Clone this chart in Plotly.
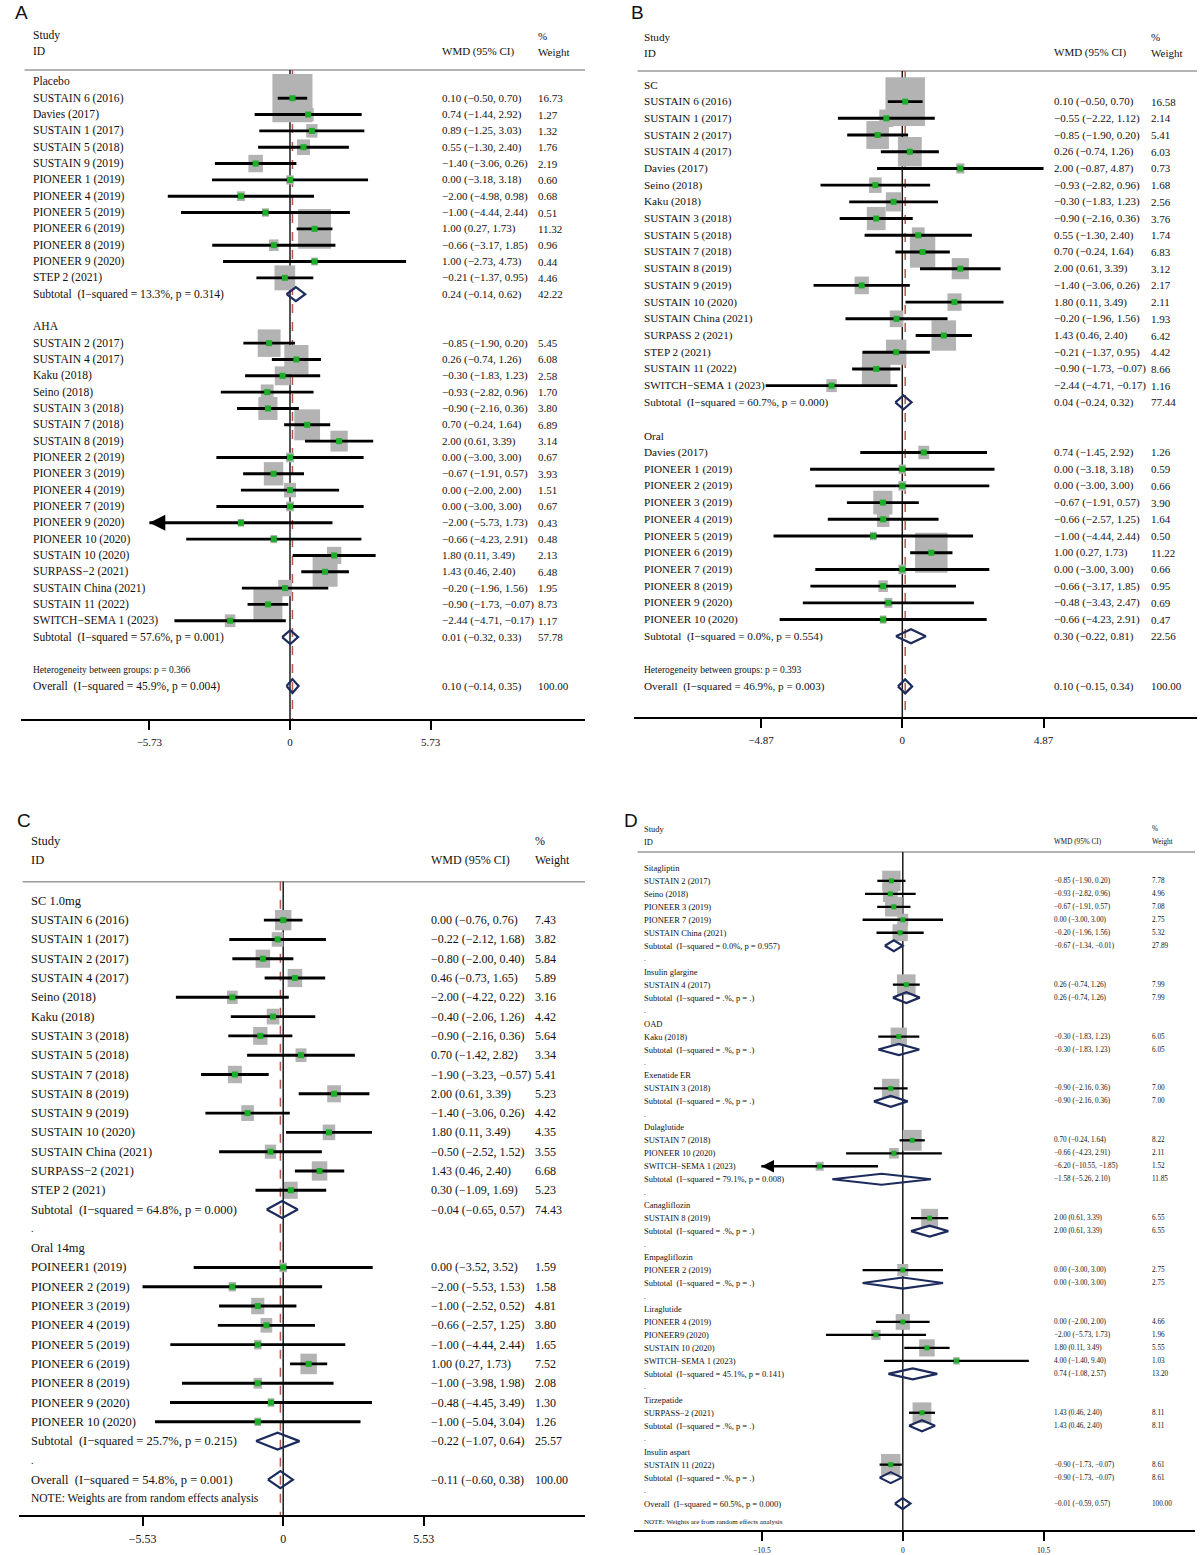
import math
import plotly.graph_objects as go

MINUS = "\u2212"
NB = "\u00a0"

# ======================= Panel A =======================
A_groups = ["Placebo", "AHA"]
A_placebo_ids = ["SUSTAIN 6 (2016)", "Davies (2017)", "SUSTAIN 1 (2017)", "SUSTAIN 5 (2018)",
                 "SUSTAIN 9 (2019)", "PIONEER 1 (2019)", "PIONEER 4 (2019)", "PIONEER 5 (2019)",
                 "PIONEER 6 (2019)", "PIONEER 8 (2019)", "PIONEER 9 (2020)", "STEP 2 (2021)"]
A_placebo_est = [0.10, 0.74, 0.89, 0.55, -1.40, 0.00, -2.00, -1.00, 1.00, -0.66, 1.00, -0.21]
A_placebo_lo = [-0.50, -1.44, -1.25, -1.30, -3.06, -3.18, -4.98, -4.44, 0.27, -3.17, -2.73, -1.37]
A_placebo_hi = [0.70, 2.92, 3.03, 2.40, 0.26, 3.18, 0.98, 2.44, 1.73, 1.85, 4.73, 0.95]
A_placebo_wt = [16.73, 1.27, 1.32, 1.76, 2.19, 0.60, 0.68, 0.51, 11.32, 0.96, 0.44, 4.46]

A_aha_ids = ["SUSTAIN 2 (2017)", "SUSTAIN 4 (2017)", "Kaku (2018)", "Seino (2018)", "SUSTAIN 3 (2018)",
             "SUSTAIN 7 (2018)", "SUSTAIN 8 (2019)", "PIONEER 2 (2019)", "PIONEER 3 (2019)",
             "PIONEER 4 (2019)", "PIONEER 7 (2019)", "PIONEER 9 (2020)", "PIONEER 10 (2020)",
             "SUSTAIN 10 (2020)", "SURPASS−2 (2021)", "SUSTAIN China (2021)", "SUSTAIN 11 (2022)",
             "SWITCH−SEMA 1 (2023)"]
A_aha_est = [-0.85, 0.26, -0.30, -0.93, -0.90, 0.70, 2.00, 0.00, -0.67, 0.00, 0.00, -2.00, -0.66,
             1.80, 1.43, -0.20, -0.90, -2.44]
A_aha_lo = [-1.90, -0.74, -1.83, -2.82, -2.16, -0.24, 0.61, -3.00, -1.91, -2.00, -3.00, -5.73, -4.23,
            0.11, 0.46, -1.96, -1.73, -4.71]
A_aha_hi = [0.20, 1.26, 1.23, 0.96, 0.36, 1.64, 3.39, 3.00, 0.57, 2.00, 3.00, 1.73, 2.91,
            3.49, 2.40, 1.56, -0.07, -0.17]
A_aha_wt = [5.45, 6.08, 2.58, 1.70, 3.80, 6.89, 3.14, 0.67, 3.93, 1.51, 0.67, 0.43, 0.48,
            2.13, 6.48, 1.95, 8.73, 1.17]

A_sub_labels = ["Subtotal  (I−squared = 13.3%, p = 0.314)", "Subtotal  (I−squared = 57.6%, p = 0.001)"]
A_sub_est = [0.24, 0.01]
A_sub_lo = [-0.14, -0.32]
A_sub_hi = [0.62, 0.33]
A_sub_wt = [42.22, 57.78]
A_het = "Heterogeneity between groups: p = 0.366"
A_overall_label = "Overall  (I−squared = 45.9%, p = 0.004)"
A_overall = [0.10, -0.14, 0.35, 100.00]
A_ticks = [-5.73, 0, 5.73]
A_arrows = [(1, 11)]

# ======================= Panel B =======================
B_groups = ["SC", "Oral"]
B_sc_ids = ["SUSTAIN 6 (2016)", "SUSTAIN 1 (2017)", "SUSTAIN 2 (2017)", "SUSTAIN 4 (2017)", "Davies (2017)",
            "Seino (2018)", "Kaku (2018)", "SUSTAIN 3 (2018)", "SUSTAIN 5 (2018)", "SUSTAIN 7 (2018)",
            "SUSTAIN 8 (2019)", "SUSTAIN 9 (2019)", "SUSTAIN 10 (2020)", "SUSTAIN China (2021)",
            "SURPASS 2 (2021)", "STEP 2 (2021)", "SUSTAIN 11 (2022)", "SWITCH−SEMA 1 (2023)"]
B_sc_est = [0.10, -0.55, -0.85, 0.26, 2.00, -0.93, -0.30, -0.90, 0.55, 0.70, 2.00, -1.40, 1.80,
            -0.20, 1.43, -0.21, -0.90, -2.44]
B_sc_lo = [-0.50, -2.22, -1.90, -0.74, -0.87, -2.82, -1.83, -2.16, -1.30, -0.24, 0.61, -3.06, 0.11,
           -1.96, 0.46, -1.37, -1.73, -4.71]
B_sc_hi = [0.70, 1.12, 0.20, 1.26, 4.87, 0.96, 1.23, 0.36, 2.40, 1.64, 3.39, 0.26, 3.49,
           1.56, 2.40, 0.95, -0.07, -0.17]
B_sc_wt = [16.58, 2.14, 5.41, 6.03, 0.73, 1.68, 2.56, 3.76, 1.74, 6.83, 3.12, 2.17, 2.11,
           1.93, 6.42, 4.42, 8.66, 1.16]

B_oral_ids = ["Davies (2017)", "PIONEER 1 (2019)", "PIONEER 2 (2019)", "PIONEER 3 (2019)",
              "PIONEER 4 (2019)", "PIONEER 5 (2019)", "PIONEER 6 (2019)", "PIONEER 7 (2019)",
              "PIONEER 8 (2019)", "PIONEER 9 (2020)", "PIONEER 10 (2020)"]
B_oral_est = [0.74, 0.00, 0.00, -0.67, -0.66, -1.00, 1.00, 0.00, -0.66, -0.48, -0.66]
B_oral_lo = [-1.45, -3.18, -3.00, -1.91, -2.57, -4.44, 0.27, -3.00, -3.17, -3.43, -4.23]
B_oral_hi = [2.92, 3.18, 3.00, 0.57, 1.25, 2.44, 1.73, 3.00, 1.85, 2.47, 2.91]
B_oral_wt = [1.26, 0.59, 0.66, 3.90, 1.64, 0.50, 11.22, 0.66, 0.95, 0.69, 0.47]

B_sub_labels = ["Subtotal  (I−squared = 60.7%, p = 0.000)", "Subtotal  (I−squared = 0.0%, p = 0.554)"]
B_sub_est = [0.04, 0.30]
B_sub_lo = [-0.24, -0.22]
B_sub_hi = [0.32, 0.81]
B_sub_wt = [77.44, 22.56]
B_het = "Heterogeneity between groups: p = 0.393"
B_overall_label = "Overall  (I−squared = 46.9%, p = 0.003)"
B_overall = [0.10, -0.15, 0.34, 100.00]
B_ticks = [-4.87, 0, 4.87]
B_arrows = []

# ======================= Panel C =======================
C_groups = ["SC 1.0mg", "Oral 14mg"]
C_sc_ids = ["SUSTAIN 6 (2016)", "SUSTAIN 1 (2017)", "SUSTAIN 2 (2017)", "SUSTAIN 4 (2017)", "Seino (2018)",
            "Kaku (2018)", "SUSTAIN 3 (2018)", "SUSTAIN 5 (2018)", "SUSTAIN 7 (2018)", "SUSTAIN 8 (2019)",
            "SUSTAIN 9 (2019)", "SUSTAIN 10 (2020)", "SUSTAIN China (2021)", "SURPASS−2 (2021)",
            "STEP 2 (2021)"]
C_sc_est = [0.00, -0.22, -0.80, 0.46, -2.00, -0.40, -0.90, 0.70, -1.90, 2.00, -1.40, 1.80, -0.50, 1.43, 0.30]
C_sc_lo = [-0.76, -2.12, -2.00, -0.73, -4.22, -2.06, -2.16, -1.42, -3.23, 0.61, -3.06, 0.11, -2.52, 0.46, -1.09]
C_sc_hi = [0.76, 1.68, 0.40, 1.65, 0.22, 1.26, 0.36, 2.82, -0.57, 3.39, 0.26, 3.49, 1.52, 2.40, 1.69]
C_sc_wt = [7.43, 3.82, 5.84, 5.89, 3.16, 4.42, 5.64, 3.34, 5.41, 5.23, 4.42, 4.35, 3.55, 6.68, 5.23]

C_oral_ids = ["POINEER1 (2019)", "PIONEER 2 (2019)", "PIONEER 3 (2019)", "PIONEER 4 (2019)",
              "PIONEER 5 (2019)", "PIONEER 6 (2019)", "PIONEER 8 (2019)", "PIONEER 9 (2020)",
              "PIONEER 10 (2020)"]
C_oral_est = [0.00, -2.00, -1.00, -0.66, -1.00, 1.00, -1.00, -0.48, -1.00]
C_oral_lo = [-3.52, -5.53, -2.52, -2.57, -4.44, 0.27, -3.98, -4.45, -5.04]
C_oral_hi = [3.52, 1.53, 0.52, 1.25, 2.44, 1.73, 1.98, 3.49, 3.04]
C_oral_wt = [1.59, 1.58, 4.81, 3.80, 1.65, 7.52, 2.08, 1.30, 1.26]

C_sub_labels = ["Subtotal  (I−squared = 64.8%, p = 0.000)", "Subtotal  (I−squared = 25.7%, p = 0.215)"]
C_sub_est = [-0.04, -0.22]
C_sub_lo = [-0.65, -1.07]
C_sub_hi = [0.57, 0.64]
C_sub_wt = [74.43, 25.57]
C_overall_label = "Overall  (I−squared = 54.8%, p = 0.001)"
C_overall = [-0.11, -0.60, 0.38, 100.00]
C_note = "NOTE: Weights are from random effects analysis"
C_ticks = [-5.53, 0, 5.53]
C_arrows = []

# ======================= Panel D =======================
D_groups = ["Sitagliptin", "Insulin glargine", "OAD", "Exenatide ER", "Dulaglutide", "Canagliflozin",
            "Empagliflozin", "Liraglutide", "Tirzepatide", "Insulin aspart"]
D_sita_ids = ["SUSTAIN 2 (2017)", "Seino (2018)", "PIONEER 3 (2019)", "PIONEER 7 (2019)", "SUSTAIN China (2021)"]
D_sita_est = [-0.85, -0.93, -0.67, 0.00, -0.20]
D_sita_lo = [-1.90, -2.82, -1.91, -3.00, -1.96]
D_sita_hi = [0.20, 0.96, 0.57, 3.00, 1.56]
D_sita_wt = [7.78, 4.96, 7.08, 2.75, 5.32]
D_glar_ids = ["SUSTAIN 4 (2017)"]
D_glar_est = [0.26]
D_glar_lo = [-0.74]
D_glar_hi = [1.26]
D_glar_wt = [7.99]
D_oad_ids = ["Kaku (2018)"]
D_oad_est = [-0.30]
D_oad_lo = [-1.83]
D_oad_hi = [1.23]
D_oad_wt = [6.05]
D_exe_ids = ["SUSTAIN 3 (2018)"]
D_exe_est = [-0.90]
D_exe_lo = [-2.16]
D_exe_hi = [0.36]
D_exe_wt = [7.00]
D_dula_ids = ["SUSTAIN 7 (2018)", "PIONEER 10 (2020)", "SWITCH−SEMA 1 (2023)"]
D_dula_est = [0.70, -0.66, -6.20]
D_dula_lo = [-0.24, -4.23, -10.55]
D_dula_hi = [1.64, 2.91, -1.85]
D_dula_wt = [8.22, 2.11, 1.52]
D_cana_ids = ["SUSTAIN 8 (2019)"]
D_cana_est = [2.00]
D_cana_lo = [0.61]
D_cana_hi = [3.39]
D_cana_wt = [6.55]
D_empa_ids = ["PIONEER 2 (2019)"]
D_empa_est = [0.00]
D_empa_lo = [-3.00]
D_empa_hi = [3.00]
D_empa_wt = [2.75]
D_lira_ids = ["PIONEER 4 (2019)", "PIONEER9 (2020)", "SUSTAIN 10 (2020)", "SWITCH−SEMA 1 (2023)"]
D_lira_est = [0.00, -2.00, 1.80, 4.00]
D_lira_lo = [-2.00, -5.73, 0.11, -1.40]
D_lira_hi = [2.00, 1.73, 3.49, 9.40]
D_lira_wt = [4.66, 1.96, 5.55, 1.03]
D_tirz_ids = ["SURPASS−2 (2021)"]
D_tirz_est = [1.43]
D_tirz_lo = [0.46]
D_tirz_hi = [2.40]
D_tirz_wt = [8.11]
D_asp_ids = ["SUSTAIN 11 (2022)"]
D_asp_est = [-0.90]
D_asp_lo = [-1.73]
D_asp_hi = [-0.07]
D_asp_wt = [8.61]

D_sub_labels = ["Subtotal  (I−squared = 0.0%, p = 0.957)", "Subtotal  (I−squared = .%, p = .)",
                "Subtotal  (I−squared = .%, p = .)", "Subtotal  (I−squared = .%, p = .)",
                "Subtotal  (I−squared = 79.1%, p = 0.008)", "Subtotal  (I−squared = .%, p = .)",
                "Subtotal  (I−squared = .%, p = .)", "Subtotal  (I−squared = 45.1%, p = 0.141)",
                "Subtotal  (I−squared = .%, p = .)", "Subtotal  (I−squared = .%, p = .)"]
D_sub_est = [-0.67, 0.26, -0.30, -0.90, -1.58, 2.00, 0.00, 0.74, 1.43, -0.90]
D_sub_lo = [-1.34, -0.74, -1.83, -2.16, -5.26, 0.61, -3.00, -1.08, 0.46, -1.73]
D_sub_hi = [-0.01, 1.26, 1.23, 0.36, 2.10, 3.39, 3.00, 2.57, 2.40, -0.07]
D_sub_wt = [27.89, 7.99, 6.05, 7.00, 11.85, 6.55, 2.75, 13.20, 8.11, 8.61]
D_overall_label = "Overall  (I−squared = 60.5%, p = 0.000)"
D_overall = [-0.01, -0.59, 0.57, 100.00]
D_note = "NOTE: Weights are from random effects analysis"
D_ticks = [-10.5, 0, 10.5]
D_arrows = [(4, 2)]

# ======================= helpers =======================
W, H = 1200, 1555
SERIF = "Liberation Serif"
SANS = "Liberation Sans"
INK = "#111111"
BOX = "#b3b3b3"
GREEN = "#1fae2a"
NAVY = "#1c2b5c"
RED = "#b8564f"


def fmt(v):
    return f"{v:.2f}".replace("-", MINUS)


def tick_txt(v):
    if v == 0:
        return "0"
    return (f"{v:g}").replace("-", MINUS)


def sp(s):
    return s.replace("  ", NB + " ")


def build_rows(groups, studies, sub_labels, sub_est, sub_lo, sub_hi, sub_wt,
               het, ov_label, overall, note, note_off):
    rows = []
    r = 0
    for gi, g in enumerate(groups):
        rows.append(dict(kind="group", r=r, label=g)); r += 1
        ids, est, lo, hi, wt = studies[gi]
        for i in range(len(ids)):
            rows.append(dict(kind="study", r=r, label=ids[i], est=est[i], lo=lo[i], hi=hi[i],
                             wt=wt[i], key=(gi, i)))
            r += 1
        rows.append(dict(kind="sub", r=r, label=sub_labels[gi], est=sub_est[gi], lo=sub_lo[gi],
                         hi=sub_hi[gi], wt=sub_wt[gi]))
        r += 1
        rows.append(dict(kind="blank", r=r)); r += 1
    if het:
        rows.append(dict(kind="het", r=r, label=het)); r += 1
    rows.append(dict(kind="overall", r=r, label=ov_label, est=overall[0], lo=overall[1],
                     hi=overall[2], wt=overall[3]))
    r += 1
    if note:
        rows.append(dict(kind="note", r=r + note_off, label=note))
    return rows


panels = [
    dict(letter="A", letter_xy=(13, 13),
         rows=build_rows(A_groups,
                         [(A_placebo_ids, A_placebo_est, A_placebo_lo, A_placebo_hi, A_placebo_wt),
                          (A_aha_ids, A_aha_est, A_aha_lo, A_aha_hi, A_aha_wt)],
                         A_sub_labels, A_sub_est, A_sub_lo, A_sub_hi, A_sub_wt,
                         A_het, A_overall_label, A_overall, None, 0),
         overall=A_overall, ticks=A_ticks, arrows=A_arrows,
         xdom=(21, 585), zero=290, ppu=24.54, r0=82, pitch=16.35, axis_y=720, top=0,
         study_y=36, id_y=52, line_y=70, name_x=31, val_x=440, wt_x=536,
         fs_name=11.6, fs_val=11, fs_het=9.5, fs_tick=11, kx=9.8, ky=11.8, dh=7, ciw=2.9, ms=6,
         dash=True, dot=False),
    dict(letter="B", letter_xy=(629, 13),
         rows=build_rows(B_groups,
                         [(B_sc_ids, B_sc_est, B_sc_lo, B_sc_hi, B_sc_wt),
                          (B_oral_ids, B_oral_est, B_oral_lo, B_oral_hi, B_oral_wt)],
                         B_sub_labels, B_sub_est, B_sub_lo, B_sub_hi, B_sub_wt,
                         B_het, B_overall_label, B_overall, None, 0),
         overall=B_overall, ticks=B_ticks, arrows=B_arrows,
         xdom=(634, 1197), zero=902.3, ppu=29.0, r0=85, pitch=16.73, axis_y=718, top=0,
         study_y=37, id_y=53, line_y=71, name_x=642, val_x=1052, wt_x=1149,
         fs_name=11.2, fs_val=11, fs_het=9.5, fs_tick=11, kx=9.7, ky=12.0, dh=7, ciw=2.9, ms=6,
         dash=True, dot=False),
    dict(letter="C", letter_xy=(15, 822),
         rows=build_rows(C_groups,
                         [(C_sc_ids, C_sc_est, C_sc_lo, C_sc_hi, C_sc_wt),
                          (C_oral_ids, C_oral_est, C_oral_lo, C_oral_hi, C_oral_wt)],
                         C_sub_labels, C_sub_est, C_sub_lo, C_sub_hi, C_sub_wt,
                         None, C_overall_label, C_overall, C_note, 0),
         overall=C_overall, ticks=C_ticks, arrows=C_arrows,
         xdom=(19, 585), zero=283.2, ppu=25.43, r0=902, pitch=19.32, axis_y=1517, top=800,
         study_y=842, id_y=861, line_y=883, name_x=29, val_x=429, wt_x=533,
         fs_name=12.5, fs_val=12, fs_het=10, fs_tick=12, kx=6.0, ky=7.5, dh=8.5, ciw=2.9, ms=6,
         fs_note=11.5, dash=True, dot=True),
    dict(letter="D", letter_xy=(622, 822),
         rows=build_rows(D_groups,
                         [(D_sita_ids, D_sita_est, D_sita_lo, D_sita_hi, D_sita_wt),
                          (D_glar_ids, D_glar_est, D_glar_lo, D_glar_hi, D_glar_wt),
                          (D_oad_ids, D_oad_est, D_oad_lo, D_oad_hi, D_oad_wt),
                          (D_exe_ids, D_exe_est, D_exe_lo, D_exe_hi, D_exe_wt),
                          (D_dula_ids, D_dula_est, D_dula_lo, D_dula_hi, D_dula_wt),
                          (D_cana_ids, D_cana_est, D_cana_lo, D_cana_hi, D_cana_wt),
                          (D_empa_ids, D_empa_est, D_empa_lo, D_empa_hi, D_empa_wt),
                          (D_lira_ids, D_lira_est, D_lira_lo, D_lira_hi, D_lira_wt),
                          (D_tirz_ids, D_tirz_est, D_tirz_lo, D_tirz_hi, D_tirz_wt),
                          (D_asp_ids, D_asp_est, D_asp_lo, D_asp_hi, D_asp_wt)],
                         D_sub_labels, D_sub_est, D_sub_lo, D_sub_hi, D_sub_wt,
                         None, D_overall_label, D_overall, D_note, 0.45),
         overall=D_overall, ticks=D_ticks, arrows=D_arrows,
         xdom=(634, 1195), zero=902.8, ppu=13.41, r0=869, pitch=12.99, axis_y=1532, top=800,
         study_y=830, id_y=843, line_y=853, name_x=642, val_x=1052, wt_x=1150,
         fs_name=8.5, fs_val=7.2, fs_het=7, fs_tick=7.5, kx=6.6, ky=7.3, dh=5.5, ciw=2.3, ms=5,
         fs_note=7, dash=False, dot=True),
]

fig = go.Figure()
layout = dict(width=W, height=H, margin=dict(l=0, r=0, t=0, b=0),
              paper_bgcolor="white", plot_bgcolor="white", showlegend=False,
              font=dict(family=SERIF, color=INK))
shapes = []
annotations = []


def ptxt(xpx, ypx, s, size, anchor="left", family=SERIF):
    return dict(x=xpx / W, y=1 - ypx / H, xref="paper", yref="paper", text=s, showarrow=False,
                xanchor=anchor, yanchor="middle", font=dict(family=family, size=size, color=INK))


for k, P in enumerate(panels, start=1):
    sfx = "" if k == 1 else str(k)
    xr, yr = "x" + sfx, "y" + sfx
    x0p, x1p = P["xdom"]
    zero, ppu, r0, pitch = P["zero"], P["ppu"], P["r0"], P["pitch"]
    layout["xaxis" + sfx] = dict(
        domain=[x0p / W, x1p / W], range=[(x0p - zero) / ppu, (x1p - zero) / ppu], anchor=yr,
        showgrid=False, zeroline=False, showline=True, linecolor="black", linewidth=2,
        ticks="outside", ticklen=9, tickwidth=2, tickcolor="black",
        tickvals=P["ticks"], ticktext=[tick_txt(v) for v in P["ticks"]],
        tickfont=dict(family=SERIF, size=P["fs_tick"], color=INK), ticklabelstandoff=3,
        fixedrange=True)
    layout["yaxis" + sfx] = dict(
        domain=[1 - P["axis_y"] / H, 1 - P["top"] / H],
        range=[(P["axis_y"] - r0) / pitch, (P["top"] - r0) / pitch], anchor=xr,
        visible=False, showgrid=False, zeroline=False, fixedrange=True)

    r_line = (P["line_y"] - r0) / pitch
    r_axis = (P["axis_y"] - r0) / pitch

    # header
    fs_n, fs_v = P["fs_name"], P["fs_val"]
    annotations.append(ptxt(P["letter_xy"][0], P["letter_xy"][1], P["letter"], 19, family=SANS))
    annotations.append(ptxt(P["name_x"], P["study_y"], "Study", fs_n))
    annotations.append(ptxt(P["name_x"], P["id_y"], "ID", fs_n))
    annotations.append(ptxt(P["val_x"], P["id_y"], "WMD (95% CI)", fs_v))
    annotations.append(ptxt(P["wt_x"], P["study_y"], "%", fs_v))
    annotations.append(ptxt(P["wt_x"], P["id_y"], "Weight", fs_v))
    shapes.append(dict(type="line", xref="paper", yref="paper", x0=x0p / W + 0.003, x1=x1p / W,
                       y0=1 - P["line_y"] / H, y1=1 - P["line_y"] / H,
                       line=dict(color="#9a9a9a", width=1.5), layer="below"))

    # reference lines
    shapes.append(dict(type="line", xref=xr, yref=yr, x0=0, x1=0, y0=r_line, y1=r_axis,
                       line=dict(color="#1a1a1a", width=1.5), layer="below"))
    if P["dash"]:
        ov = P["overall"][0]
        shapes.append(dict(type="line", xref=xr, yref=yr, x0=ov, x1=ov, y0=r_line, y1=r_axis,
                           line=dict(color=RED, width=1.5, dash="dash"), layer="below"))

    ci_x, ci_y, pt_x, pt_y, dm_x, dm_y = [], [], [], [], [], []
    dh_rows = P["dh"] / pitch
    for row in P["rows"]:
        kind, r = row["kind"], row["r"]

        def atxt(xpx, s, size):
            annotations.append(dict(x=xpx / W, xref="paper", y=r, yref=yr, text=s, showarrow=False,
                                    xanchor="left", yanchor="middle",
                                    font=dict(family=SERIF, size=size, color=INK)))
        if kind == "group":
            atxt(P["name_x"], row["label"], fs_n)
        elif kind == "blank":
            if P["dot"]:
                atxt(P["name_x"], ".", fs_n * 0.8)
        elif kind == "het":
            atxt(P["name_x"], row["label"], P["fs_het"])
        elif kind == "note":
            atxt(P["name_x"], row["label"], P["fs_note"])
        else:
            atxt(P["name_x"], sp(row["label"]), fs_n)
            atxt(P["val_x"], f"{fmt(row['est'])} ({fmt(row['lo'])}, {fmt(row['hi'])})", fs_v)
            atxt(P["wt_x"], f"{row['wt']:.2f}", fs_v)
        if kind == "study":
            w = row["wt"]
            hw = P["kx"] * math.sqrt(w) / 2 / ppu
            hh = P["ky"] * math.sqrt(w) / 2 / pitch
            shapes.append(dict(type="rect", xref=xr, yref=yr, x0=row["est"] - hw, x1=row["est"] + hw,
                               y0=r - hh, y1=r + hh, fillcolor=BOX, line=dict(width=0), layer="below"))
            ci_x += [row["lo"], row["hi"], None]
            ci_y += [r, r, None]
            pt_x.append(row["est"])
            pt_y.append(r)
            if row["key"] in P["arrows"]:
                annotations.append(dict(x=row["lo"], y=r, xref=xr, yref=yr,
                                        ax=row["lo"] + 14 / ppu, ay=r, axref=xr, ayref=yr,
                                        showarrow=True, arrowhead=2, arrowsize=1.1,
                                        arrowwidth=P["ciw"], arrowcolor="black", text=""))
        elif kind in ("sub", "overall"):
            e, lo, hi = row["est"], row["lo"], row["hi"]
            dm_x += [lo, e, hi, e, lo, None]
            dm_y += [r, r - dh_rows, r, r + dh_rows, r, None]

    fig.add_trace(go.Scatter(x=ci_x, y=ci_y, xaxis=xr, yaxis=yr, mode="lines",
                             line=dict(color="black", width=P["ciw"]), hoverinfo="skip"))
    fig.add_trace(go.Scatter(x=pt_x, y=pt_y, xaxis=xr, yaxis=yr, mode="markers",
                             marker=dict(symbol="square", size=P["ms"], color=GREEN,
                                         line=dict(width=0)), hoverinfo="skip"))
    fig.add_trace(go.Scatter(x=dm_x, y=dm_y, xaxis=xr, yaxis=yr, mode="lines",
                             line=dict(color=NAVY, width=2.2), hoverinfo="skip"))

layout["shapes"] = shapes
layout["annotations"] = annotations
fig.update_layout(**layout)
fig.write_html("out.html")
